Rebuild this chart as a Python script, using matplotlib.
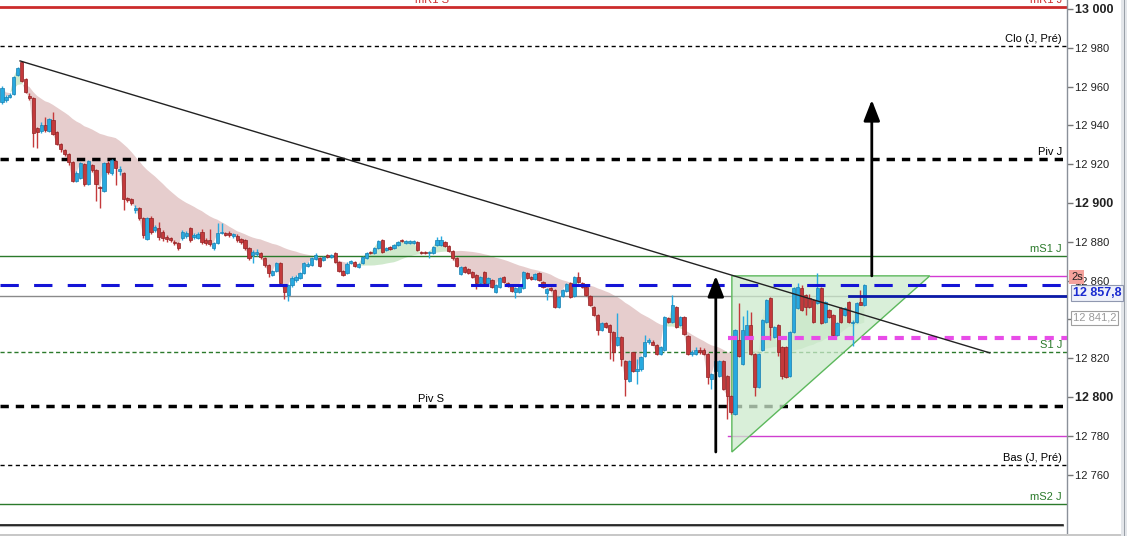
import matplotlib
matplotlib.use('Agg')
import matplotlib.pyplot as plt
import numpy as np
import pandas as pd
from matplotlib.patches import Polygon, Rectangle

plt.rcParams['font.family'] = ['Liberation Sans', 'DejaVu Sans']

# ---------------- data ----------------
opens = [12952.0, 12953.1, 12954.7, 12956.2, 12965.9, 12972.7, 12963.9, 12955.2, 12954.1, 12938.6,
         12937.1, 12940.2, 12937.1, 12942.7, 12936.6, 12930.4, 12927.3, 12925.3, 12921.1, 12911.3,
         12913.0, 12920.1, 12909.8, 12919.6, 12917.0, 12908.3, 12906.1, 12920.6, 12915.5, 12921.6,
         12916.5, 12915.5, 12902.6, 12902.1, 12896.3, 12897.5, 12892.2, 12881.5, 12892.2, 12886.0,
         12887.2, 12885.0, 12882.5, 12882.0, 12879.9, 12879.4, 12882.0, 12883.0, 12887.2, 12882.5,
         12882.0, 12885.0, 12880.9, 12880.9, 12876.9, 12879.4, 12884.5, 12884.5, 12884.5, 12883.0,
         12883.0, 12881.5, 12880.9, 12876.9, 12873.2, 12873.7, 12874.2, 12871.7, 12868.1, 12862.9,
         12864.9, 12869.1, 12857.3, 12852.6, 12857.8, 12860.3, 12861.4, 12863.9, 12867.6, 12868.1,
         12871.2, 12871.7, 12870.6, 12873.2, 12872.2, 12874.2, 12869.6, 12864.9, 12863.9, 12869.1,
         12869.6, 12867.1, 12869.1, 12871.7, 12874.7, 12874.2, 12876.9, 12880.9, 12875.7, 12877.4,
         12876.9, 12878.4, 12880.9, 12879.4, 12879.4, 12879.4, 12879.9, 12874.7, 12874.7, 12874.2,
         12874.2, 12878.4, 12878.4, 12879.9, 12877.9, 12875.2, 12871.7, 12863.4, 12867.1, 12866.1,
         12864.4, 12862.9, 12858.8, 12864.4, 12858.8, 12860.3, 12854.1, 12856.8, 12861.9, 12858.8,
         12857.3, 12854.1, 12854.1, 12856.3, 12863.9, 12861.9, 12860.9, 12863.9, 12859.3, 12853.6,
         12856.3, 12855.1, 12846.4, 12852.1, 12854.6, 12858.8, 12852.1, 12861.9, 12858.8, 12856.8,
         12852.1, 12846.4, 12842.3, 12834.7, 12838.2, 12837.2, 12833.6, 12826.5, 12831.1, 12818.3,
         12808.1, 12822.9, 12813.2, 12814.2, 12820.9, 12828.5, 12828.5, 12827.0, 12821.9, 12824.4,
         12840.8, 12838.7, 12846.4, 12837.2, 12841.3, 12831.6, 12821.9, 12821.9, 12824.4, 12824.4,
         12821.9, 12809.1, 12813.2, 12810.7, 12818.3, 12810.7, 12800.5, 12791.1, 12829.5, 12816.8,
         12831.1, 12837.2, 12821.9, 12805.1, 12824.4, 12838.7, 12851.1, 12831.1, 12837.2, 12825.5,
         12825.5, 12810.7, 12833.6, 12845.9, 12856.3, 12852.6, 12851.1, 12850.0, 12848.5, 12856.3,
         12838.7, 12844.9, 12842.3, 12832.1, 12845.9, 12842.3, 12849.0, 12838.2, 12838.7, 12849.0,
         12847.4]
highs = [12960.3, 12955.7, 12956.7, 12965.4, 12970.1, 12973.2, 12964.4, 12956.7, 12954.6, 12939.2,
         12941.7, 12944.3, 12943.8, 12946.9, 12937.1, 12930.9, 12927.9, 12925.8, 12921.6, 12916.5,
         12921.1, 12920.6, 12922.1, 12920.1, 12917.6, 12908.8, 12921.1, 12921.6, 12922.6, 12922.1,
         12919.1, 12916.0, 12903.1, 12902.6, 12899.0, 12898.0, 12892.7, 12892.7, 12893.2, 12888.7,
         12890.2, 12886.0, 12883.5, 12882.5, 12880.9, 12879.9, 12886.0, 12885.5, 12887.7, 12884.5,
         12885.0, 12886.7, 12882.0, 12886.7, 12879.9, 12889.7, 12889.7, 12885.0, 12885.5, 12884.5,
         12884.0, 12882.0, 12881.5, 12877.4, 12875.7, 12876.4, 12874.7, 12872.2, 12868.6, 12865.5,
         12869.6, 12869.6, 12857.8, 12858.3, 12862.4, 12862.9, 12864.4, 12869.6, 12869.6, 12872.2,
         12874.2, 12872.2, 12872.7, 12873.7, 12873.7, 12874.7, 12870.1, 12865.5, 12869.6, 12870.6,
         12870.1, 12869.1, 12872.7, 12874.7, 12875.2, 12877.4, 12880.9, 12881.5, 12877.4, 12877.9,
         12878.9, 12880.4, 12881.5, 12880.9, 12880.9, 12880.9, 12880.4, 12875.2, 12875.2, 12875.2,
         12877.9, 12882.5, 12883.0, 12880.4, 12878.4, 12875.7, 12872.2, 12867.6, 12867.6, 12866.6,
         12864.9, 12863.4, 12862.4, 12864.9, 12861.9, 12860.9, 12858.3, 12861.9, 12862.4, 12859.3,
         12857.8, 12856.8, 12858.3, 12864.9, 12864.4, 12862.4, 12863.9, 12864.4, 12859.8, 12856.3,
         12856.8, 12855.8, 12852.1, 12855.8, 12858.8, 12859.3, 12862.4, 12864.4, 12859.3, 12857.3,
         12852.6, 12846.9, 12842.8, 12838.7, 12838.7, 12837.7, 12834.1, 12843.3, 12831.6, 12818.8,
         12818.8, 12823.4, 12819.3, 12820.9, 12832.1, 12830.6, 12829.5, 12827.5, 12826.0, 12841.8,
         12841.3, 12852.6, 12846.9, 12841.8, 12841.8, 12832.1, 12824.4, 12825.5, 12825.5, 12825.0,
         12822.4, 12812.2, 12818.8, 12818.8, 12818.8, 12811.2, 12801.0, 12835.2, 12848.5, 12841.8,
         12844.9, 12843.8, 12822.4, 12822.4, 12840.3, 12850.6, 12851.6, 12836.7, 12837.7, 12826.0,
         12826.0, 12834.1, 12856.8, 12858.8, 12857.8, 12853.1, 12853.1, 12850.6, 12863.9, 12856.8,
         12849.5, 12845.4, 12842.8, 12838.7, 12846.4, 12846.4, 12849.5, 12839.8, 12849.0, 12855.1,
         12858.3]
lows = [12951.0, 12952.0, 12954.1, 12955.7, 12965.4, 12962.3, 12956.7, 12953.1, 12928.9, 12928.4,
        12936.1, 12936.6, 12936.6, 12935.1, 12929.9, 12926.3, 12924.3, 12919.6, 12910.8, 12910.8,
        12912.5, 12908.8, 12909.3, 12916.0, 12901.0, 12897.5, 12905.6, 12915.0, 12914.5, 12909.3,
        12914.5, 12896.3, 12900.5, 12899.0, 12894.8, 12891.2, 12882.0, 12880.9, 12884.0, 12885.0,
        12880.9, 12880.4, 12879.9, 12879.9, 12878.4, 12875.7, 12880.9, 12882.0, 12879.9, 12881.5,
        12881.5, 12878.9, 12878.4, 12877.9, 12875.7, 12878.9, 12884.0, 12883.0, 12882.5, 12882.0,
        12879.9, 12878.9, 12875.7, 12870.6, 12869.1, 12872.7, 12871.2, 12867.1, 12861.9, 12862.4,
        12864.4, 12857.3, 12850.6, 12849.5, 12856.8, 12859.3, 12860.9, 12863.4, 12867.1, 12867.6,
        12870.6, 12867.1, 12870.1, 12871.7, 12871.7, 12869.1, 12864.4, 12862.4, 12863.4, 12868.6,
        12867.1, 12866.6, 12868.6, 12871.2, 12873.7, 12873.7, 12876.4, 12874.2, 12875.2, 12875.7,
        12876.4, 12877.9, 12879.9, 12878.9, 12878.9, 12878.9, 12875.2, 12873.7, 12873.7, 12871.7,
        12873.7, 12877.9, 12877.9, 12877.4, 12874.7, 12870.6, 12867.1, 12862.9, 12863.9, 12863.4,
        12861.4, 12855.8, 12858.3, 12858.3, 12858.3, 12856.3, 12853.6, 12856.3, 12858.8, 12856.8,
        12854.1, 12851.1, 12853.6, 12855.8, 12860.9, 12860.3, 12860.3, 12859.8, 12856.3, 12850.0,
        12854.6, 12845.9, 12845.9, 12851.6, 12854.1, 12851.1, 12851.6, 12858.8, 12856.3, 12852.1,
        12846.9, 12841.8, 12832.1, 12834.1, 12835.7, 12819.3, 12818.3, 12826.0, 12815.8, 12800.5,
        12807.6, 12812.7, 12806.6, 12813.2, 12820.4, 12827.5, 12826.5, 12821.4, 12821.4, 12823.9,
        12838.2, 12838.2, 12835.7, 12836.7, 12832.1, 12821.4, 12820.9, 12821.4, 12821.9, 12821.4,
        12806.6, 12804.0, 12812.7, 12810.2, 12803.5, 12788.5, 12791.1, 12790.6, 12820.4, 12816.3,
        12830.6, 12821.4, 12800.5, 12804.6, 12823.9, 12838.2, 12829.5, 12830.6, 12820.9, 12809.1,
        12809.7, 12810.2, 12833.1, 12845.4, 12844.4, 12842.3, 12845.9, 12838.2, 12848.0, 12837.7,
        12838.2, 12840.8, 12831.6, 12831.6, 12838.2, 12841.8, 12838.2, 12826.0, 12838.2, 12847.4,
        12846.9]
closes = [12959.3, 12954.7, 12955.7, 12964.9, 12969.6, 12962.8, 12957.2, 12954.1, 12936.1, 12936.6,
          12940.2, 12937.6, 12943.3, 12935.6, 12930.4, 12927.9, 12925.3, 12921.1, 12911.3, 12915.5,
          12920.6, 12909.8, 12921.6, 12917.0, 12909.8, 12907.8, 12920.6, 12916.0, 12922.1, 12918.1,
          12917.6, 12902.1, 12901.5, 12900.0, 12897.5, 12892.2, 12883.5, 12892.2, 12885.0, 12887.7,
          12882.5, 12882.0, 12881.5, 12880.9, 12879.4, 12876.9, 12885.0, 12884.5, 12880.9, 12883.5,
          12884.0, 12879.9, 12879.4, 12878.9, 12879.4, 12884.5, 12885.0, 12883.5, 12883.5, 12884.0,
          12880.9, 12879.9, 12876.9, 12871.7, 12874.7, 12874.7, 12872.2, 12868.1, 12863.9, 12864.9,
          12869.1, 12858.8, 12854.1, 12857.8, 12861.4, 12861.9, 12863.9, 12869.1, 12868.6, 12871.7,
          12873.2, 12867.6, 12872.2, 12872.2, 12873.2, 12869.6, 12864.9, 12862.9, 12868.6, 12870.1,
          12867.6, 12868.6, 12872.2, 12874.2, 12874.2, 12876.9, 12880.4, 12874.7, 12876.9, 12876.4,
          12878.4, 12879.9, 12880.4, 12880.4, 12880.4, 12880.4, 12875.7, 12874.2, 12874.2, 12874.7,
          12877.4, 12880.9, 12880.9, 12877.9, 12875.2, 12871.7, 12867.6, 12867.1, 12864.4, 12863.9,
          12861.9, 12858.8, 12861.9, 12858.8, 12861.4, 12856.8, 12857.8, 12861.4, 12859.3, 12857.3,
          12854.6, 12856.3, 12857.8, 12864.4, 12861.4, 12860.9, 12863.4, 12860.3, 12856.8, 12855.8,
          12855.1, 12846.4, 12851.6, 12855.1, 12858.3, 12851.6, 12861.9, 12859.3, 12856.8, 12852.6,
          12847.4, 12842.3, 12834.7, 12838.2, 12836.2, 12833.6, 12823.4, 12831.1, 12819.3, 12809.1,
          12818.3, 12813.2, 12814.2, 12820.4, 12828.5, 12829.5, 12827.0, 12821.9, 12825.5, 12841.3,
          12838.7, 12847.4, 12836.2, 12841.3, 12832.6, 12821.9, 12822.9, 12824.4, 12822.9, 12821.9,
          12810.2, 12811.7, 12818.3, 12818.3, 12804.0, 12800.5, 12792.1, 12834.7, 12820.9, 12834.7,
          12837.2, 12821.9, 12805.1, 12821.9, 12839.8, 12850.0, 12836.2, 12836.2, 12823.4, 12810.7,
          12810.2, 12833.6, 12856.3, 12856.8, 12844.9, 12846.4, 12846.4, 12838.7, 12856.3, 12838.2,
          12849.0, 12841.3, 12832.1, 12838.2, 12838.7, 12845.9, 12838.7, 12838.7, 12848.5, 12847.4,
          12857.8]

y_ticks = [12760, 12780, 12800, 12820, 12840, 12860, 12880, 12900, 12920, 12940, 12960, 12980, 13000]
bold_ticks = [12800, 12900, 13000]
hidden_tick_labels = [12840]   # covered by the 12 841,2 marker box

# horizontal reference levels
mR1_level = 13001.0
clo_level = 12981.0
pivJ_level = 12922.7
mS1_level = 12872.7
two_s_level = 12862.4
last_level = 12857.8
blue_solid_level = 12852.1
gray_level = 12852.1
magenta_dot_level = 12830.6
S1_level = 12823.2
pivS_level = 12795.4
magenta_low_level = 12779.8
bas_level = 12765.0
mS2_level = 12745.0
bottom_level = 12734.0

# drawn objects (candle index, price)
trend_x = [4.6, 252.0]
trend_y = [12973.2, 12822.7]
tri_x = [186.2, 236.7, 186.2]
tri_y = [12862.4, 12862.4, 12771.6]
arrow1_x = 182.1
arrow1_y = [12771.6, 12862.4]
arrow2_x = 221.9
arrow2_y = [12862.4, 12953.1]

# ---------------- figure ----------------
W, H = 1127, 536
fig = plt.figure(figsize=(W / 100, H / 100), dpi=100)
fig.patch.set_facecolor('white')
axw = 1067 / W
ax = fig.add_axes([0, 0, axw, 1])
ax.set_xlim(-0.51, 271.7)
ax.set_ylim(12728.3, 13004.6)

o = np.array(opens); h = np.array(highs); l = np.array(lows); c = np.array(closes)
x = np.arange(len(c))

# cloud between close and its moving average
ma = pd.Series(c).rolling(30, min_periods=1).mean().to_numpy()
ax.fill_between(x, c, ma, where=ma >= c, interpolate=True, color='#e6cdcd', lw=0, zorder=1)
ax.fill_between(x, c, ma, where=ma < c, interpolate=True, color='#cfe9cc', lw=0, zorder=1)

# reference lines
ax.axhline(mR1_level, color='#cc2b2b', lw=2, zorder=2)
ax.axhline(clo_level, color='black', lw=1, dashes=(3, 2.5), zorder=2)
ax.axhline(pivJ_level, color='black', lw=2.5, dashes=(2.4, 2.0), zorder=2)
ax.axhline(mS1_level, color='#2b7a2b', lw=1, zorder=2)
ax.axhline(two_s_level, xmin=930 / 1067, color='#d43ad4', lw=1, zorder=2)
ax.axhline(gray_level, color='#8a8a8a', lw=1, zorder=2)
ax.axhline(last_level, color='#1414d6', lw=2.2, dashes=(6, 5), zorder=6)
ax.axhline(blue_solid_level, xmin=849 / 1067, color='#0c1aa8', lw=2, zorder=6)
ax.axhline(magenta_dot_level, xmin=728 / 1067, color='#e84ce8', lw=3, dashes=(2.2, 1.8), zorder=6)
ax.axhline(S1_level, color='#2b7a2b', lw=1, dashes=(3, 2), zorder=2)
ax.axhline(pivS_level, color='black', lw=2.5, dashes=(2.4, 2.0), zorder=2)
ax.axhline(magenta_low_level, xmin=728 / 1067, color='#cf3fcf', lw=1, zorder=2)
ax.axhline(bas_level, color='black', lw=1, dashes=(3, 2.5), zorder=2)
ax.axhline(mS2_level, color='#2b7a2b', lw=1, zorder=2)
ax.axhline(bottom_level - 0.8, xmax=1063 / 1067, color='#b0b0b0', lw=1.5, zorder=2)
ax.axhline(bottom_level, xmax=1063 / 1067, color='black', lw=1.1, zorder=2)

# triangle
ax.add_patch(Polygon(np.column_stack([tri_x, tri_y]), closed=True, facecolor='#cdeacd',
                     edgecolor='none', alpha=0.75, zorder=3))
ax.add_patch(Polygon(np.column_stack([tri_x, tri_y]), closed=True, facecolor='none',
                     edgecolor='#5cb85c', lw=1, zorder=3))

# candles
up = c >= o
body_col = np.where(up, '#27a9df', '#c4393b')
edge_col = np.where(up, '#1b7fb0', '#8e2224')
ax.vlines(x, l, h, colors=body_col, lw=1, zorder=4)
bottoms = np.minimum(o, c)
heights = np.maximum(np.abs(c - o), 0.6)
ax.bar(x, heights, bottom=bottoms, width=0.82, color=body_col, edgecolor=edge_col,
       linewidth=0.5, zorder=5)

# trend line
ax.plot(trend_x, trend_y, color='#222222', lw=1, zorder=7)

# arrows
for ax_x, ay in [(arrow1_x, arrow1_y), (arrow2_x, arrow2_y)]:
    ax.annotate('', xy=(ax_x, ay[1]), xytext=(ax_x, ay[0]),
                arrowprops=dict(arrowstyle='-|>,head_length=0.9,head_width=0.35',
                                color='black', lw=2, shrinkA=0, shrinkB=0,
                                mutation_scale=14), zorder=8)

# line labels
trans = ax.get_yaxis_transform()
fs = 8
lab_kw = dict(fontsize=fs, ha='right', va='bottom', transform=trans, zorder=9)
xr = 1062 / 1067
ax.text(xr, mR1_level + 0.8, 'mR1 J', color='#cc2b2b', **lab_kw)
ax.text(415 / 1067, mR1_level + 0.8, 'mR1 S', color='#cc2b2b', fontsize=fs, ha='left',
        va='bottom', transform=trans)
ax.text(xr, clo_level + 0.8, 'Clo (J, Pré)', color='black', **lab_kw)
ax.text(xr, pivJ_level + 1.0, 'Piv J', color='black', **lab_kw)
ax.text(xr, mS1_level + 0.8, 'mS1 J', color='#2b7a2b', **lab_kw)
ax.text(xr, S1_level + 0.8, 'S1 J', color='#2b7a2b', **lab_kw)
ax.text(418 / 1067, pivS_level + 1.0, 'Piv S', color='black', fontsize=fs, ha='left',
        va='bottom', transform=trans)
ax.text(xr, bas_level + 0.8, 'Bas (J, Pré)', color='black', **lab_kw)
ax.text(xr, mS2_level + 0.8, 'mS2 J', color='#2b7a2b', **lab_kw)

# axis styling
for s in ['left', 'top', 'bottom']:
    ax.spines[s].set_visible(False)
ax.spines['right'].set_color('#8a9099')
ax.spines['right'].set_linewidth(1)
ax.yaxis.tick_right()
ax.set_yticks(y_ticks)
ax.set_yticklabels(['' if v in hidden_tick_labels else f"{v:,}".replace(',', ' ')
                    for v in y_ticks])
ax.tick_params(axis='y', direction='out', length=4, width=1, pad=2, color='#777777',
               labelsize=8, labelcolor='#222222')
for t, v in zip(ax.get_yticklabels(), y_ticks):
    if v in bold_ticks:
        t.set_fontweight('bold')
        t.set_fontsize(9)
ax.set_xticks([])

# bottom border line
fig.add_artist(Rectangle((0, 0), 1, 2 / H, transform=fig.transFigure, facecolor='#c8c8c8',
                         edgecolor='none'))
# right window strip
fig.add_artist(Rectangle((1121 / W, 0), 6 / W, 1, transform=fig.transFigure,
                         facecolor='#e3e6ea', edgecolor='none'))
fig.add_artist(Rectangle((1124 / W, 0), 1 / W, 1, transform=fig.transFigure,
                         facecolor='#9aa0a8', edgecolor='none'))

# value boxes on the axis
fig.text(1071 / W, 1 - 277 / H, '2s', fontsize=8, color='#222222', va='center', ha='left',
         bbox=dict(boxstyle='square,pad=0.15', facecolor='#f4a29c', edgecolor='none'))
fig.text(1073 / W, 1 - 293 / H, '12 857,8', fontsize=9, fontweight='bold', color='#1a2ad0',
         va='center', ha='left',
         bbox=dict(boxstyle='square,pad=0.15', facecolor='#eef0fa', edgecolor='#9098b0', lw=0.8))
fig.text(1073 / W, 1 - 318 / H, '12 841,2', fontsize=8, color='#9a9a9a',
         va='center', ha='left',
         bbox=dict(boxstyle='square,pad=0.15', facecolor='white', edgecolor='#a0a0a0', lw=0.8))

fig.savefig('out.png', dpi=100)
